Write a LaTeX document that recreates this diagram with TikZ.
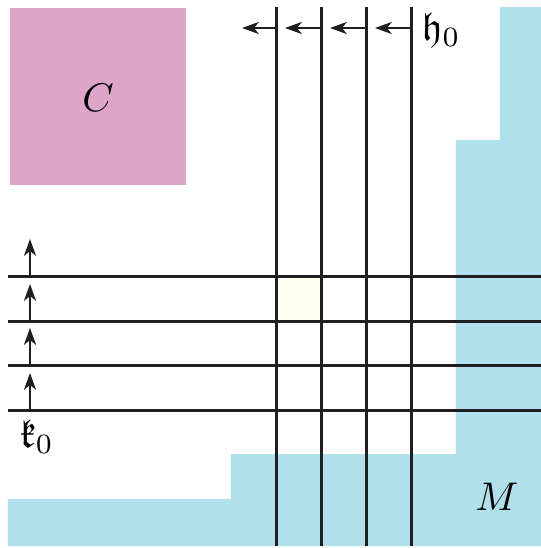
\documentclass[tikz,border=0pt]{standalone}
\usepackage{amssymb}
\usetikzlibrary{arrows.meta}
\definecolor{pinkC}{HTML}{DDA6C9}
\definecolor{blueM}{HTML}{B0E0EB}
\definecolor{cellfill}{HTML}{FFFFF0}
\begin{document}
\begin{tikzpicture}[x=0.25pt,y=-0.25pt,
  gridline/.style={line width=0.75pt, draw=black!88},
  flowarrow/.style={line width=0.6pt, draw=black!88, -{Stealth[length=4.2pt,width=3pt,inset=1.2pt]}},
  lbl/.style={inner sep=0pt}]
\useasboundingbox (0,0) rectangle (541,548);
% regions
\fill[blueM] (8,546) -- (8,499) -- (231,499) -- (231,454) -- (456,454) -- (456,140)
  -- (500,140) -- (500,7) -- (541,7) -- (541,546) -- cycle;
\fill[pinkC] (10,8) rectangle (186,185);
\fill[cellfill] (277,276) rectangle (322,321);
\node[lbl] (C) at (98,98) {$C$};
\node[lbl] (M) at (497,497) {$M$};
% vertical lines
\foreach \i/\x in {1/277,2/322,3/367,4/412}{
  \coordinate (vt\i) at (\x,7);
  \coordinate (vb\i) at (\x,546);
  \draw[gridline] (vt\i) -- (vb\i);
}
% horizontal lines
\foreach \i/\y in {1/276,2/321,3/365,4/410}{
  \coordinate (hl\i) at (8,\y);
  \coordinate (hr\i) at (541,\y);
  \draw[gridline] (hl\i) -- (hr\i);
}
% top arrows
\foreach \i/\x/\t in {1/277/242,2/322/285,3/367/330,4/412/375}{
  \coordinate (ta\i) at (\x,28);
  \coordinate (tt\i) at (\t,28);
  \draw[flowarrow] (ta\i) -- (tt\i);
}
% left arrows
\foreach \i/\y/\t in {1/276/239,2/321/284,3/365/328,4/410/373}{
  \coordinate (la\i) at (30,\y);
  \coordinate (lt\i) at (30,\t);
  \draw[flowarrow] (la\i) -- (lt\i);
}
\node[lbl, anchor=west] (h0) at (421,30) {$\mathfrak{h}_0$};
\node[lbl] (k0) at (37,437) {$\mathfrak{k}_0$};
\end{tikzpicture}
\end{document}
